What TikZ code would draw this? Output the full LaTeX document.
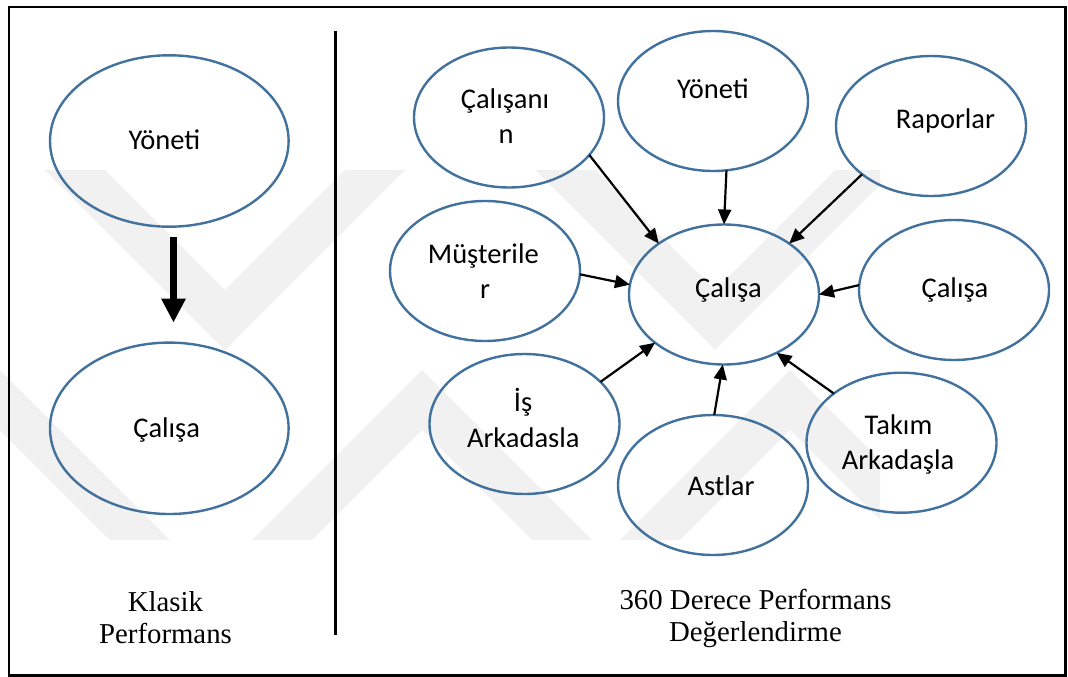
\documentclass[tikz,border=0pt]{standalone}
\usepackage{fontspec}
\setmainfont{Carlito}
\newfontfamily\capfont{Liberation Serif}
\usetikzlibrary{shapes.geometric,arrows.meta}
\definecolor{ovalblue}{HTML}{41719C}
\definecolor{markgray}{HTML}{F1F1F1}
\begin{document}
\begin{tikzpicture}[x=1pt,y=-1pt,
  oval/.style={ellipse,draw=ovalblue,line width=2.4pt,inner sep=0pt,outer sep=0pt,
    minimum width=190pt,minimum height=140pt},
  bigoval/.style={oval,minimum width=238.6pt,minimum height=171.4pt},
  lbl/.style={font=\fontsize{28.5}{34}\selectfont,inner sep=0pt,anchor=base},
  captext/.style={font=\capfont\fontsize{28.8}{32}\selectfont,inner sep=0pt,anchor=base},
  feed/.style={draw=black,line width=2.2pt,-{Triangle[length=15pt,width=13pt]}},
  flow/.style={draw=black,line width=7.5pt,-{Triangle[length=24pt,width=23pt]}}
]
\useasboundingbox (0,0) rectangle (1068,677);

% faint background emblem: V chevrons above, inverted chevrons below
\begin{scope}
  \clip (0,170) rectangle (880,540);
  \foreach \vx in {225,715}{
    \fill[markgray] (\vx-180,170) -- (\vx-120,170) -- (\vx,290) -- (\vx+120,170)
      -- (\vx+180,170) -- (\vx,350) -- cycle;
  }
  \foreach \ax in {0,422,790}{
    \fill[markgray] (\ax,370) -- (\ax+170,540) -- (\ax+110,540) -- (\ax,430)
      -- (\ax-110,540) -- (\ax-170,540) -- cycle;
  }
\end{scope}

% frame and divider
\draw[line width=2.5pt] (9,7) rectangle (1065.5,675.5);
\coordinate (divtop) at (335.3,31);
\coordinate (divbot) at (335.3,635);
\draw[line width=3.5pt] (divtop) -- (divbot);

% classic appraisal
\node[bigoval] (L1) at (169.3,141) {};
\node[bigoval] (L2) at (169.3,428.3) {};
\node[lbl] (L1t) at (164.5,149) {Yöneti};
\node[lbl] (L2t) at (166.7,437) {Çalışa};
\draw[flow,shorten <=10pt,shorten >=20pt] ([xshift=4.2pt]L1.south) -- ([xshift=4.2pt]L2.north);
\node[captext] (K1) at (165.5,611.5) {Klasik};
\node[captext] (K2) at (165.5,643.5) {Performans};

% 360 degree appraisal
\node[oval] (C)  at (724,294.5) {};
\node[oval] (N1) at (509,117.5) {};
\node[oval] (N2) at (713,101) {};
\node[oval] (N3) at (931,126) {};
\node[oval] (N4) at (485,271) {};
\node[oval] (N5) at (954,290) {};
\node[oval] (N6) at (524.5,424) {};
\node[oval] (N7) at (713,485) {};
\node[oval] (N8) at (901.5,442.7) {};

\node[lbl] (Ct)  at (728.5,297) {Çalışa};
\node[lbl] (N1a) at (505,108) {Çalışanı};
\node[lbl] (N1b) at (506,143.5) {n};
\node[lbl] (N2t) at (713,99) {Yöneti};
\node[lbl] (N3t) at (945.5,128) {Raporlar};
\node[lbl] (N4a) at (483.3,263.5) {Müşterile};
\node[lbl] (N4b) at (485,298) {r};
\node[lbl] (N5t) at (955,297) {Çalışa};
\node[lbl] (N6a) at (523,411.7) {İş};
\begin{scope}
  \clip (420,415) rectangle (630,446.5);
  \node[lbl] (N6b) at (523.3,447.3) {Arkadasla};
\end{scope}
\node[lbl] (N7t) at (721,495) {Astlar};
\node[lbl] (N8a) at (898.5,434) {Takım};
\node[lbl] (N8b) at (898,469.5) {Arkadaşla};

\draw[feed] (N1.-25.4) -- (C.142.6);
\draw[feed] (N2.-79.4) -- (C.90);
\draw[feed] (N3.-145.3) -- (C.38.4);
\draw[feed] (N4.-2.3) -- (C.174.3);
\draw[feed] (N5.177) -- (C.0);
\draw[feed] (N6.29.2) -- (C.-145.2);
\draw[feed] (N7.89.2) -- (C.-91);
\draw[feed] (N8.144.8) -- (C.-48);

\node[captext] (R1) at (755.5,609.3) {360 Derece Performans};
\node[captext] (R2) at (755.5,641.7) {Değerlendirme};
\end{tikzpicture}
\end{document}
